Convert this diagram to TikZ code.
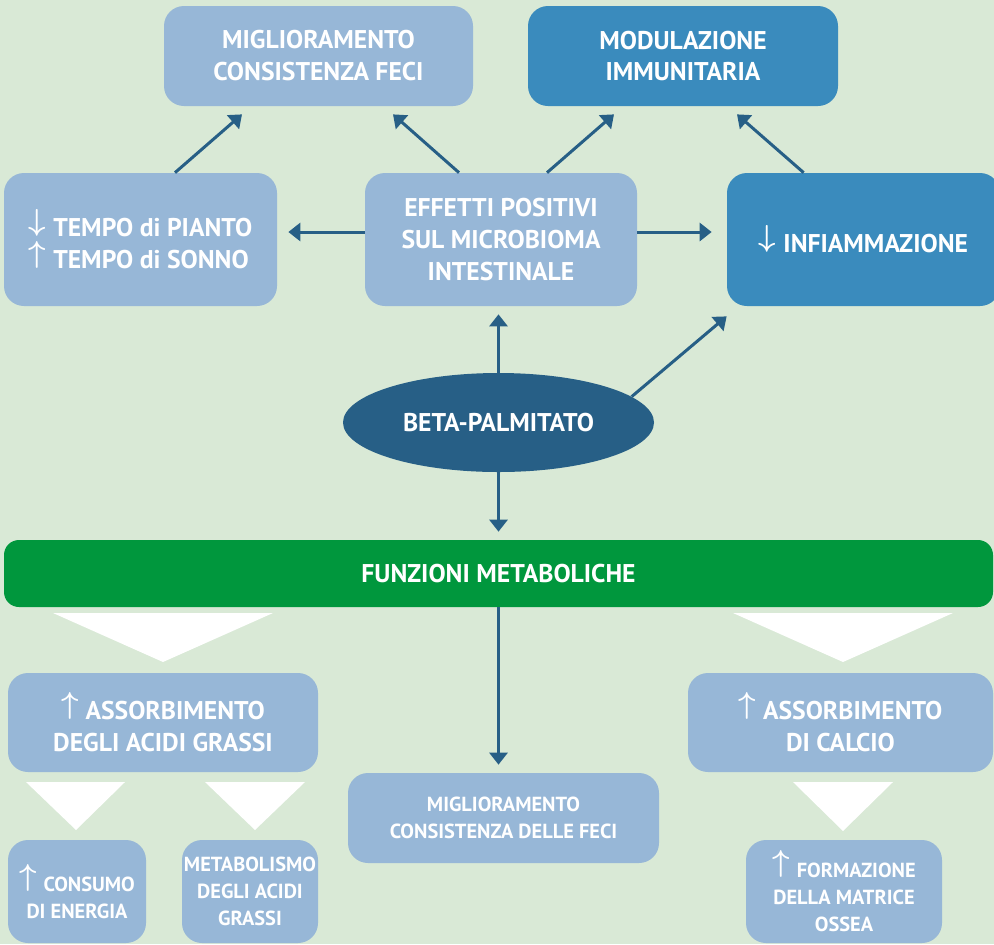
\documentclass[tikz,border=0pt]{standalone}
\usepackage{fontspec}
\setmainfont{PT Sans}
\usetikzlibrary{shapes.geometric,arrows.meta,calc}

\definecolor{bggreen}{HTML}{D9E9D6}
\definecolor{palebox}{HTML}{97B7D7}
\definecolor{deepbox}{HTML}{3A8BBD}
\definecolor{darkblue}{HTML}{275F86}
\definecolor{leafgreen}{HTML}{00973D}

\newcommand{\bigtxt}{\fontsize{14.6}{18.2}\selectfont}
\newcommand{\smalltxt}{\fontsize{11.6}{15.4}\selectfont}
\newcommand{\arrup}{\raisebox{\depth}{\fontsize{18}{18}\selectfont\boldmath$\uparrow$}\kern0.14cm}
\newcommand{\arrdown}{\raisebox{\depth}{\fontsize{18}{18}\selectfont\boldmath$\downarrow$}\kern0.14cm}

\begin{document}
\begin{tikzpicture}[x=0.02cm,y=-0.02cm,
  wh/.style 2 args={minimum width=#1*0.02cm,minimum height=#2*0.02cm},
  pale/.style={rectangle,rounded corners=0.4cm,fill=palebox,text=white,
    font=\bfseries\bigtxt,align=center,inner sep=0pt},
  deep/.style={pale,fill=deepbox},
  smallbox/.style={pale,font=\bfseries\smalltxt},
  conn/.style={draw=darkblue,line width=0.06cm,-{Triangle[length=0.24cm,width=0.36cm]}},
  wedge/.style={fill=white}]

\fill[bggreen] (0,0) rectangle (994,944);
\useasboundingbox (0,0) rectangle (994,944);
\clip (0,0) rectangle (994,944);

% upper part
\node[pale,wh={309}{100}] (feci) at (318.5,56) {MIGLIORAMENTO\\CONSISTENZA FECI};
\node[deep,wh={310}{100}] (immuno) at (683,56) {MODULAZIONE\\IMMUNITARIA};
\node[pale,wh={273}{133},align=left] (tempo) at (140.5,239.5)
  {\arrdown TEMPO di PIANTO\\\arrup TEMPO di SONNO};
\node[pale,wh={272}{133}] (microb) at (501,239.5)
  {EFFETTI POSITIVI\\SUL MICROBIOMA\\INTESTINALE};
\node[deep,wh={273}{133}] (infiam) at (863.5,239.5) {\arrdown INFIAMMAZIONE};

\node[ellipse,fill=darkblue,text=white,font=\bfseries\bigtxt,inner sep=0pt,
  wh={311}{99}] (beta) at (498.5,422.5) {BETA-PALMITATO};

\node[rectangle,rounded corners=0.3cm,fill=leafgreen,text=white,
  font=\bfseries\bigtxt,inner sep=0pt,wh={989}{67}] (funz) at (498.5,573.5)
  {FUNZIONI METABOLICHE};

% lower part
\node[pale,wh={310}{99}] (acidi) at (163,722.5) {\arrup ASSORBIMENTO\\DEGLI ACIDI GRASSI};
\node[pale,wh={305}{99}] (calcio) at (840.5,722.5) {\arrup ASSORBIMENTO\\DI CALCIO};
\node[smallbox,wh={311}{90}] (feci2) at (503.5,818)
  {MIGLIORAMENTO\\CONSISTENZA DELLE FECI};
\node[smallbox,wh={138}{103}] (energia) at (77,891.5) {\arrup CONSUMO\\DI ENERGIA};
\node[smallbox,wh={136}{103}] (metab) at (250,891.5) {METABOLISMO\\DEGLI ACIDI\\GRASSI};
\node[smallbox,wh={196}{103}] (ossea) at (844,891.5)
  {\arrup FORMAZIONE\\DELLA MATRICE\\OSSEA};

% white wedges
\fill[wedge] (53,613) -- (273,613) -- (163,662) -- cycle;
\fill[wedge] (733,613) -- (953,613) -- (843,662) -- cycle;
\fill[wedge] (26,782) -- (125,782) -- (76,830) -- cycle;
\fill[wedge] (205,782) -- (305,782) -- (255,830) -- cycle;
\fill[wedge] (793,782) -- (893,782) -- (843,831) -- cycle;

% arrows
\draw[conn] ($(tempo.north)+(34.5,0)$) -- ($(feci.south)+(-76.5,8)$);
\draw[conn] ($(microb.north)+(-42,0)$) -- ($(feci.south)+(74.5,8)$);
\draw[conn] ($(microb.north)+(46,0)$) -- ($(immuno.south)+(-69,8)$);
\draw[conn] ($(infiam.north west)+(77,0)$) -- ($(immuno.south)+(54,8)$);
\draw[conn] ($(microb.west)+(0,-7.5)$) -- ($(tempo.east)+(11,-7.5)$);
\draw[conn] ($(microb.east)+(0,-7.5)$) -- ($(infiam.west)+(-15,-7.5)$);
\draw[conn] (beta.north) -- ($(beta.north |- microb.south)+(0,8)$);
\draw[conn] (beta.11) -- ($(infiam.south west)+(0,10)$);
\draw[conn] (beta.south) -- ($(funz.north)+(0,-8)$);
\draw[conn] (funz.south) -- ($(funz.south |- feci2.north)+(0,-8)$);
\end{tikzpicture}
\end{document}
